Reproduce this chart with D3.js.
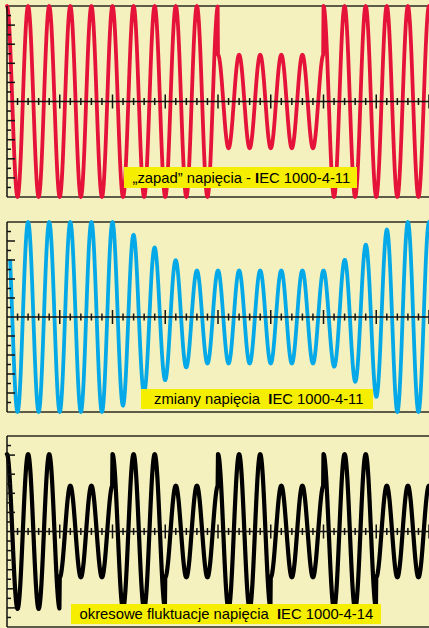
<!DOCTYPE html>
<html><head><meta charset="utf-8">
<script src="https://cdn.jsdelivr.net/npm/d3@7"></script>
<style>html,body{margin:0;padding:0;background:#f4f0bc;overflow:hidden}svg{display:block}</style>
</head><body><svg id="c" width="429" height="628"></svg>
<script>
// ---- data ----
const cycleCount = 20;                       // mains cycles shown in each panel
const redEnvCycle  = [0, 10, 10, 15, 15, 20];
const redEnvAmp    = [1, 1, 0.49, 0.49, 1, 1];
const blueEnvCycle = [0, 5, 8.8, 15.3, 18.5, 20];
const blueEnvAmp   = [1, 1, 0.49, 0.49, 1, 1];
const blackEnvCycle = [0, 2.5, 2.5, 5, 5, 7.5, 7.5, 10, 10, 12.5, 12.5, 15, 15, 17.5, 17.5, 20];
const blackEnvAmp   = [0.81, 0.81, 0.48, 0.48, 0.81, 0.81, 0.48, 0.48, 0.81, 0.81, 0.48, 0.48, 0.81, 0.81, 0.48, 0.48];
const startCycle = [0, 0.15, 0];
const labelPre  = ["„zapad” napięcia - ", "zmiany napięcia  ", "okresowe fluktuacje napięcia  "];
const labelBold = ["I", "I", "I"];
const labelPost = ["EC 1000-4-11", "EC 1000-4-11", "EC 1000-4-14"];
const yTickSteps = [-9,-8,-7,-6,-5,-4,-3,-2,-1,1,2,3,4,5,6,7,8,9];

// ---- layout ----
const W = 429, H = 628;
const x0 = 7, x1 = 429;
const panels = [
  {top: 6,   bottom: 197, color: "#e5133a", width: 3.8, envC: redEnvCycle,   envA: redEnvAmp,
   box: [124, 167, 233, 21], tx: 132.5, ty: 182.5},
  {top: 222, bottom: 412, color: "#05a9e8", width: 3.8, envC: blueEnvCycle,  envA: blueEnvAmp,
   box: [141, 389, 232, 20], tx: 154, ty: 404},
  {top: 436, bottom: 627, color: "#000000", width: 4.2, envC: blackEnvCycle, envA: blackEnvAmp,
   box: [71, 604, 310, 20], tx: 79.5, ty: 618.5}
];

const svg = d3.select("#c");
svg.append("rect").attr("width", W).attr("height", H).attr("fill", "#f5f1be");

const xs = d3.scaleLinear().domain([0, cycleCount]).range([x0, x1]);
const perCycle = 60;

panels.forEach((p, pi) => {
  const g = svg.append("g");
  const ys = d3.scaleLinear().domain([-1, 1]).range([p.bottom, p.top]);
  const yc = ys(0);
  const env = d3.scaleLinear().domain(p.envC).range(p.envA);

  // frame lines
  g.append("line").attr("x1", x0).attr("x2", x1).attr("y1", p.top).attr("y2", p.top)
    .attr("stroke", "#2a2a22").attr("stroke-width", 1.5);
  g.append("line").attr("x1", x0).attr("x2", x1).attr("y1", p.bottom).attr("y2", p.bottom)
    .attr("stroke", "#2a2a22").attr("stroke-width", 1.5);

  // waveform
  const n0 = Math.round(startCycle[pi] * perCycle), n1 = cycleCount * perCycle;
  const pts = d3.range(n0, n1 + 1).map(i => {
    const c = i / perCycle;
    return [c, env(c) * Math.cos(2 * Math.PI * c)];
  });
  g.append("path").datum(pts)
    .attr("d", d3.line().x(d => xs(d[0])).y(d => ys(d[1])))
    .attr("fill", "none").attr("stroke", p.color).attr("stroke-width", p.width)
    .attr("stroke-linejoin", "round").attr("stroke-linecap", "round");

  // vertical axis
  g.append("line").attr("x1", x0).attr("x2", x0).attr("y1", p.top).attr("y2", p.bottom)
    .attr("stroke", "#111").attr("stroke-width", 1.5);
  g.selectAll(".yt").data(yTickSteps).enter().append("line")
    .attr("x1", x0).attr("x2", d => x0 + (Math.abs(d) % 2 === 0 ? 8 : 4))
    .attr("y1", d => ys(d / 10)).attr("y2", d => ys(d / 10))
    .attr("stroke", "#111").attr("stroke-width", 1.5);

  // horizontal axis with ticks
  g.append("line").attr("x1", x0).attr("x2", x1).attr("y1", yc).attr("y2", yc)
    .attr("stroke", "#111").attr("stroke-width", 1.3);
  const ticks = d3.range(1, cycleCount * 2 + 1);
  g.selectAll(".xt").data(ticks).enter().append("line")
    .attr("x1", d => xs(d / 2)).attr("x2", d => xs(d / 2))
    .attr("y1", d => yc - (d % 5 === 0 ? 7 : 3.5))
    .attr("y2", d => yc + (d % 5 === 0 ? 7 : 3.5))
    .attr("stroke", "#111").attr("stroke-width", 1.5);

  // label
  g.append("rect").attr("x", p.box[0]).attr("y", p.box[1]).attr("width", p.box[2]).attr("height", p.box[3])
    .attr("fill", "#f6ee00");
  const t = g.append("text").attr("x", p.tx).attr("y", p.ty)
    .attr("font-family", "'Liberation Sans', Arial, sans-serif").attr("font-size", 14.8)
    .attr("fill", "#000").style("white-space", "pre");
  t.append("tspan").text(labelPre[pi]);
  t.append("tspan").attr("font-weight", "bold").text(labelBold[pi]);
  t.append("tspan").text(labelPost[pi]);
});
</script></body></html>
